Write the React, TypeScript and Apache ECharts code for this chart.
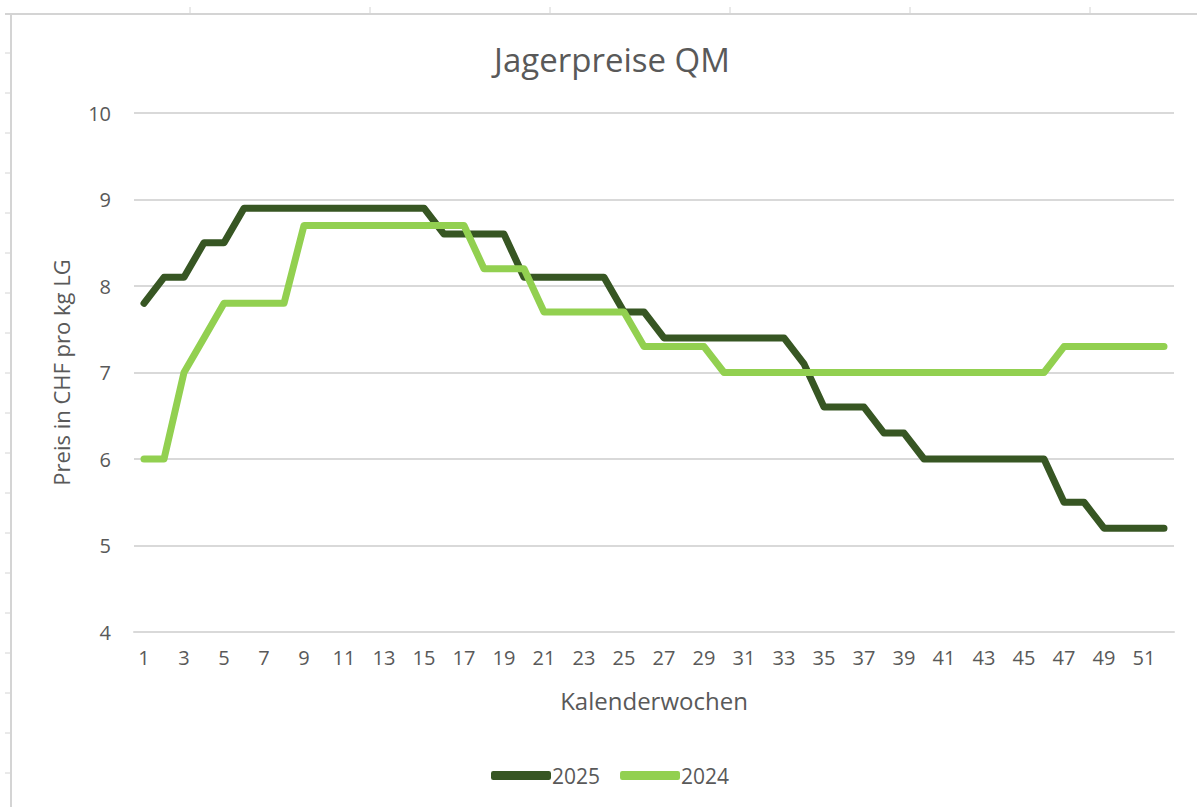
import React, { useEffect, useRef } from "react";
import * as echarts from "echarts";

const weeks: string[] = Array.from({ length: 52 }, (_, i) => String(i + 1));

const series2025: number[] = [
  7.8, 8.1, 8.1, 8.5, 8.5,
  8.9, 8.9, 8.9, 8.9, 8.9, 8.9, 8.9, 8.9, 8.9, 8.9,
  8.6, 8.6, 8.6, 8.6,
  8.1, 8.1, 8.1, 8.1, 8.1,
  7.7, 7.7,
  7.4, 7.4, 7.4, 7.4, 7.4, 7.4, 7.4,
  7.1,
  6.6, 6.6, 6.6,
  6.3, 6.3,
  6.0, 6.0, 6.0, 6.0, 6.0, 6.0, 6.0,
  5.5, 5.5,
  5.2, 5.2, 5.2, 5.2,
];

const series2024: number[] = [
  6.0, 6.0, 7.0, 7.4,
  7.8, 7.8, 7.8, 7.8,
  8.7, 8.7, 8.7, 8.7, 8.7, 8.7, 8.7, 8.7, 8.7,
  8.2, 8.2, 8.2,
  7.7, 7.7, 7.7, 7.7, 7.7,
  7.3, 7.3, 7.3, 7.3,
  7.0, 7.0, 7.0, 7.0, 7.0, 7.0, 7.0, 7.0, 7.0, 7.0, 7.0, 7.0, 7.0, 7.0, 7.0, 7.0, 7.0,
  7.3, 7.3, 7.3, 7.3, 7.3, 7.3,
];

const seriesNames: string[] = ["2025", "2024"];
const seriesColors: string[] = ["#375623", "#92D050"];

const TEXT = "#595959";
const GRID = "#d9d9d9";
const FONT = "'Open Sans', 'Noto Sans', sans-serif";

export default function App() {
  const ref = useRef<HTMLDivElement>(null);

  useEffect(() => {
    document.body.style.margin = "0";
    if (!ref.current) return;
    const chart = echarts.init(ref.current, undefined, { renderer: "svg" });

    const frame: any[] = [
      { type: "line", shape: { x1: 5, y1: 14, x2: 1197, y2: 14 }, style: { stroke: "#d4d4d4", lineWidth: 2 } },
      { type: "line", shape: { x1: 11, y1: 14, x2: 11, y2: 807 }, style: { stroke: "#d4d4d4", lineWidth: 2 } },
    ];
    [190, 370, 550, 730, 910, 1090].forEach((x) => {
      frame.push({ type: "line", shape: { x1: x, y1: 7, x2: x, y2: 13 }, style: { stroke: "#d4d4d4", lineWidth: 1 } });
    });
    for (let y = 53; y < 807; y += 40) {
      frame.push({ type: "line", shape: { x1: 5, y1: y, x2: 10, y2: y }, style: { stroke: "#d4d4d4", lineWidth: 1 } });
    }

    chart.setOption({
      animation: false,
      backgroundColor: "#ffffff",
      textStyle: { fontFamily: FONT },
      title: {
        text: "Jagerpreise QM",
        left: 607,
        textAlign: "center",
        top: 38,
        textStyle: { color: TEXT, fontSize: 33, fontWeight: "normal", fontFamily: FONT },
      },
      graphic: frame,
      legend: {
        data: seriesNames,
        left: 486,
        bottom: 16,
        itemWidth: 60,
        itemHeight: 9,
        itemGap: 20,
        icon: "roundRect",
        textStyle: { color: TEXT, fontSize: 21, fontFamily: FONT, padding: [0, 0, 0, -4] },
      },
      grid: { left: 134, right: 23, top: 113, bottom: 175, containLabel: false },
      xAxis: {
        type: "category",
        data: weeks,
        boundaryGap: true,
        name: "Kalenderwochen",
        nameLocation: "middle",
        nameGap: 56,
        nameTextStyle: { color: TEXT, fontSize: 24, fontFamily: FONT },
        axisLine: { show: true, lineStyle: { color: GRID, width: 2 } },
        axisTick: { show: false },
        axisLabel: { interval: 1, color: TEXT, fontSize: 20, margin: 15, fontFamily: FONT },
        splitLine: { show: false },
      },
      yAxis: {
        type: "value",
        min: 4,
        max: 10,
        interval: 1,
        name: "Preis in CHF pro kg LG",
        nameLocation: "middle",
        nameGap: 62,
        nameTextStyle: { color: TEXT, fontSize: 22, fontFamily: FONT },
        axisLine: { show: false },
        axisTick: { show: false },
        axisLabel: { color: TEXT, fontSize: 20, margin: 23, fontFamily: FONT },
        splitLine: { show: true, lineStyle: { color: GRID, width: 2 } },
      },
      series: [
        {
          name: seriesNames[0],
          type: "line",
          data: series2025,
          symbol: "none",
          color: seriesColors[0],
          lineStyle: { color: seriesColors[0], width: 7, cap: "round", join: "round" },
        },
        {
          name: seriesNames[1],
          type: "line",
          data: series2024,
          symbol: "none",
          color: seriesColors[1],
          lineStyle: { color: seriesColors[1], width: 7, cap: "round", join: "round" },
        },
      ],
    });

    return () => {
      chart.dispose();
    };
  }, []);

  return <div ref={ref} style={{ width: 1197, height: 807 }} />;
}
